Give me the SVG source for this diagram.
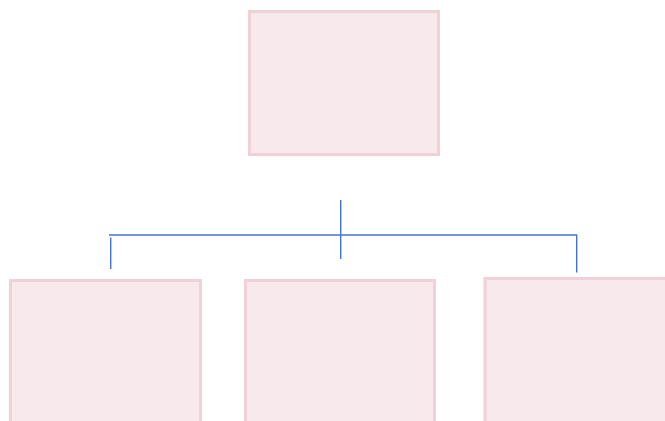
<svg xmlns="http://www.w3.org/2000/svg" width="665" height="421" viewBox="0 0 665 421">
<style>
.box{fill:#f7e9ec;stroke:#f0d1d8;stroke-width:3}
.ln{stroke:#4472d9;stroke-width:1.4;fill:none}
</style>
<rect width="665" height="421" fill="#ffffff"/>
<g id="top"><rect class="box" x="249.5" y="11.5" width="189" height="143"/></g>
<g id="left"><rect class="box" x="10.5" y="280.5" width="190" height="150"/></g>
<g id="middle"><rect class="box" x="245.5" y="280.5" width="189" height="150"/></g>
<g id="right"><rect class="box" x="485" y="278.5" width="190" height="150"/></g>
<g id="connectors">
<line class="ln" x1="340.7" y1="200" x2="340.7" y2="259"/>
<polyline class="ln" points="109,235 576.7,235 576.7,272.5"/>
<line class="ln" x1="110.7" y1="237.5" x2="110.7" y2="269"/>
</g>
</svg>
